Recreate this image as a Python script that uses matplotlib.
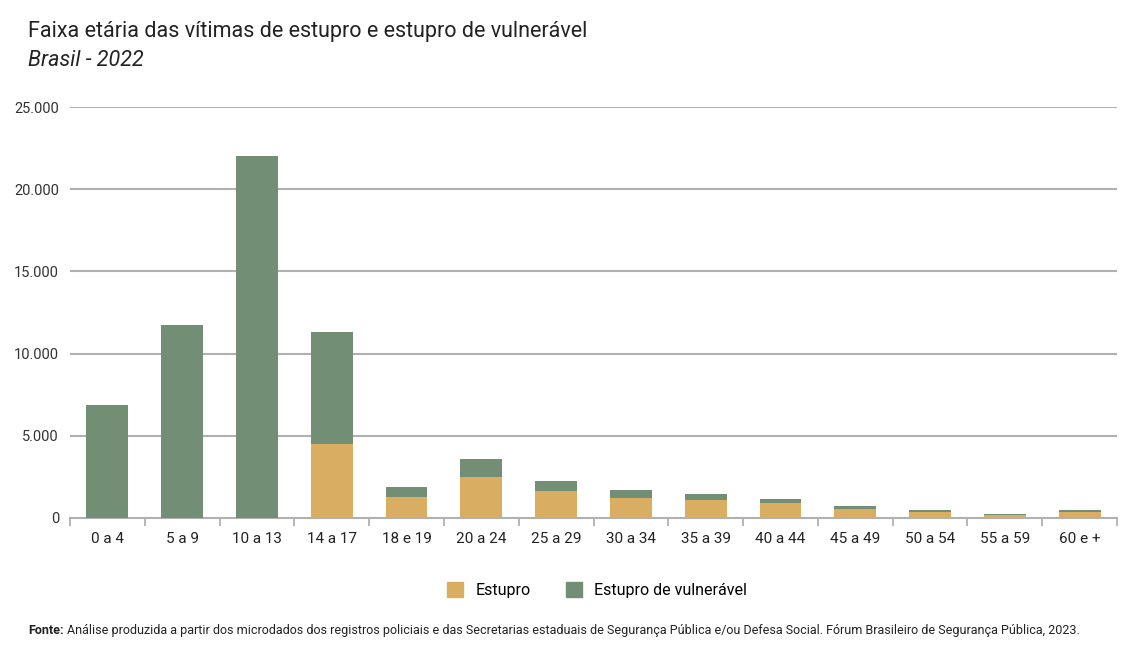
import matplotlib
matplotlib.use("Agg")
import matplotlib.pyplot as plt
import numpy as np
from matplotlib.patches import Patch
from matplotlib.transforms import offset_copy

categories = ["0 a 4", "5 a 9", "10 a 13", "14 a 17", "18 e 19", "20 a 24", "25 a 29",
              "30 a 34", "35 a 39", "40 a 44", "45 a 49", "50 a 54", "55 a 59", "60 e +"]
estupro = [0, 0, 0, 4500, 1300, 2510, 1620, 1200, 1110, 910, 550, 370, 200, 370]
vulneravel = [6870, 11740, 22020, 6810, 600, 1080, 650, 520, 350, 270, 180, 120, 15, 120]
yticks = [0, 5000, 10000, 15000, 20000, 25000]
ytick_labels = ["0", "5.000", "10.000", "15.000", "20.000", "25.000"]

c_est = "#D9AE63"
c_vul = "#728F76"

plt.rcParams['font.family'] = ['Roboto', 'DejaVu Sans']

fig = plt.figure(figsize=(11.37, 6.55), dpi=100)
ax = fig.add_axes([0.0616, 0.2092, 0.9208, 0.6274])

x = np.arange(len(categories))
ax.bar(x, estupro, width=0.56, color=c_est, zorder=3)
ax.bar(x, vulneravel, width=0.56, bottom=estupro, color=c_vul, zorder=3)

ax.set_xlim(-0.5, len(categories) - 0.5)
ax.set_ylim(0, 25000)
ax.set_yticks(yticks)
ax.set_yticklabels(ytick_labels, fontsize=10.5, color="#333333")
ax.tick_params(axis='y', length=0, pad=8)
ax.set_xticks(x)
ax.set_xticklabels(categories, fontsize=11, color="#222222")
ax.tick_params(axis='x', length=0, pad=10)
ax.set_xticks(np.arange(-0.5, len(categories), 1.0), minor=True)
ax.tick_params(axis='x', which='minor', length=6, width=1.2, color="#aaaaaa", direction='out')

for yv in yticks[1:]:
    ax.axhline(yv, color="#b0b0b0", linewidth=1.5, zorder=1)
for s in ["top", "right", "left"]:
    ax.spines[s].set_visible(False)
ax.spines["bottom"].set_color("#b0b0b0")
ax.spines["bottom"].set_linewidth(1.5)

fig.text(0.0246, 0.952, "Faixa etária das vítimas de estupro e estupro de vulnerável",
         fontsize=15.5, color="#222222", va="center")
fig.text(0.0246, 0.908, "Brasil - 2022", fontsize=15.5, style="italic",
         color="#222222", va="center")

handles = [Patch(color=c_est, label="Estupro"), Patch(color=c_vul, label="Estupro de vulnerável")]
fig.legend(handles=handles, loc="center", bbox_to_anchor=(0.525, 0.099), ncol=2,
           frameon=False, fontsize=11.5, handlelength=1.0, handleheight=1.0,
           columnspacing=2.2, handletextpad=0.8)

t1 = fig.text(0.0246, 0.038, "Fonte:", fontsize=9, weight="bold", va="center", color="#222222")
fig.canvas.draw()
bb = t1.get_window_extent()
fig.text(bb.x1 / fig.bbox.width + 0.003, 0.038,
         "Análise produzida a partir dos microdados dos registros policiais e das Secretarias estaduais de Segurança Pública e/ou Defesa Social. Fórum Brasileiro de Segurança Pública, 2023.",
         fontsize=9, va="center", color="#222222")
fig.savefig("out.png", dpi=100, facecolor="white")
